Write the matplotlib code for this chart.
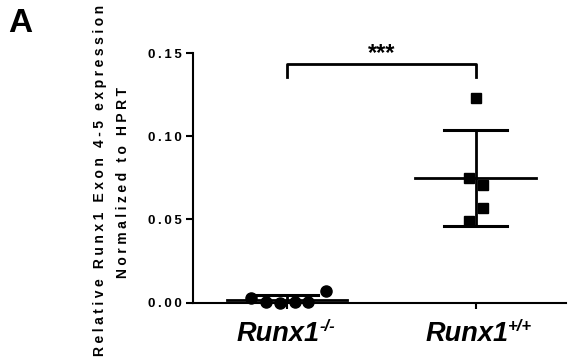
import numpy as np
import matplotlib
matplotlib.use("Agg")
import matplotlib.pyplot as plt

plt.rcParams['font.family'] = ['Liberation Sans', 'DejaVu Sans']

groups = ["Runx1", "Runx1"]
group_sups = ["-/-", "+/+"]
ko_values = [0.0027, 0.0003, 0.0000, 0.0003, 0.0004, 0.0069]
wt_values = [0.123, 0.075, 0.0705, 0.057, 0.049]
yticks = [0.00, 0.05, 0.10, 0.15]
ylabel1 = "Relative Runx1 Exon 4-5 expression"
ylabel2 = "Normalized to HPRT"
signif = "***"
panel = "A"

ko_jitter = [-0.19, -0.11, -0.037, 0.042, 0.11, 0.205]
wt_jitter = [0.0, -0.037, 0.037, 0.037, -0.037]

TS = "\u2009"
LS = "\u2005"
def spaced(s, sep=TS):
    return sep.join(s)

W, H = 568, 359
fig = plt.figure(figsize=(W / 100, H / 100), dpi=100)
L, R = 193 / W, 566 / W
B, T = 1 - 302.5 / H, 1 - 53 / H
ax = fig.add_axes([L, B, R - L, T - B])
ax.set_xlim(0.5, 2.48)
ax.set_ylim(0, 0.15)

for spine in ["top", "right"]:
    ax.spines[spine].set_visible(False)
for spine in ["left", "bottom"]:
    ax.spines[spine].set_linewidth(1.5)

ax.set_yticks(yticks)
ax.set_yticklabels([spaced(f"{v:.2f}") for v in yticks], fontsize=9.5, fontweight="bold")
ax.tick_params(axis="y", length=5, width=1.5, pad=3)
ax.set_xticks([1, 2])
ax.set_xticklabels([])
ax.tick_params(axis="x", length=4, width=1.5)

for xc, vals, jit, marker, ms in [(1, ko_values, ko_jitter, "o", 8), (2, wt_values, wt_jitter, "s", 7.5)]:
    vals = np.array(vals)
    m = vals.mean()
    sd = vals.std(ddof=1)
    ax.plot(xc + np.array(jit), vals, linestyle="none", marker=marker, ms=ms, color="black", clip_on=False, zorder=3)
    ax.plot([xc - 0.32, xc + 0.32], [m, m], color="black", lw=2, zorder=4, clip_on=False)
    ax.plot([xc, xc], [m - sd, m + sd], color="black", lw=2, zorder=4)
    for yv in (m - sd, m + sd):
        ax.plot([xc - 0.165, xc + 0.165], [yv, yv], color="black", lw=2.2, zorder=4)

# significance bracket
yb, yl = 0.1432, 0.1358
ax.plot([1, 1, 2, 2], [yl, yb, yb, yl], color="black", lw=2, clip_on=False)
ax.annotate(signif, xy=(1.5, yb), xytext=(0, 7.5), textcoords="offset points", ha="center", va="center",
            fontsize=17, fontweight="bold", annotation_clip=False)

# x category labels: main text + superscript
for xc, g, s in zip([1, 2], groups, group_sups):
    ax.annotate(g, xy=(xc, 0), xytext=(23.5, -22.5), textcoords="offset points",
                ha="right", va="center", fontsize=19.5, fontweight="bold", fontstyle="italic", annotation_clip=False)
    ax.annotate(s, xy=(xc, 0), xytext=(23.5, -17), textcoords="offset points",
                ha="left", va="center", fontsize=12, fontweight="bold", fontstyle="italic", annotation_clip=False)

def ylab(s):
    return (LS + " " + TS).join(spaced(w, LS) for w in s.split(" "))

fig.text(100 / W, 1 - 180 / H, ylab(ylabel1), rotation=90, ha="center", va="center",
         fontsize=10, fontweight="bold")
fig.text(123 / W, 1 - 183 / H, ylab(ylabel2), rotation=90, ha="center", va="center",
         fontsize=10, fontweight="bold")
fig.text(20.5 / W, 1 - 23 / H, panel, ha="center", va="center", fontsize=24, fontweight="bold")

fig.savefig("out.png", dpi=100)
